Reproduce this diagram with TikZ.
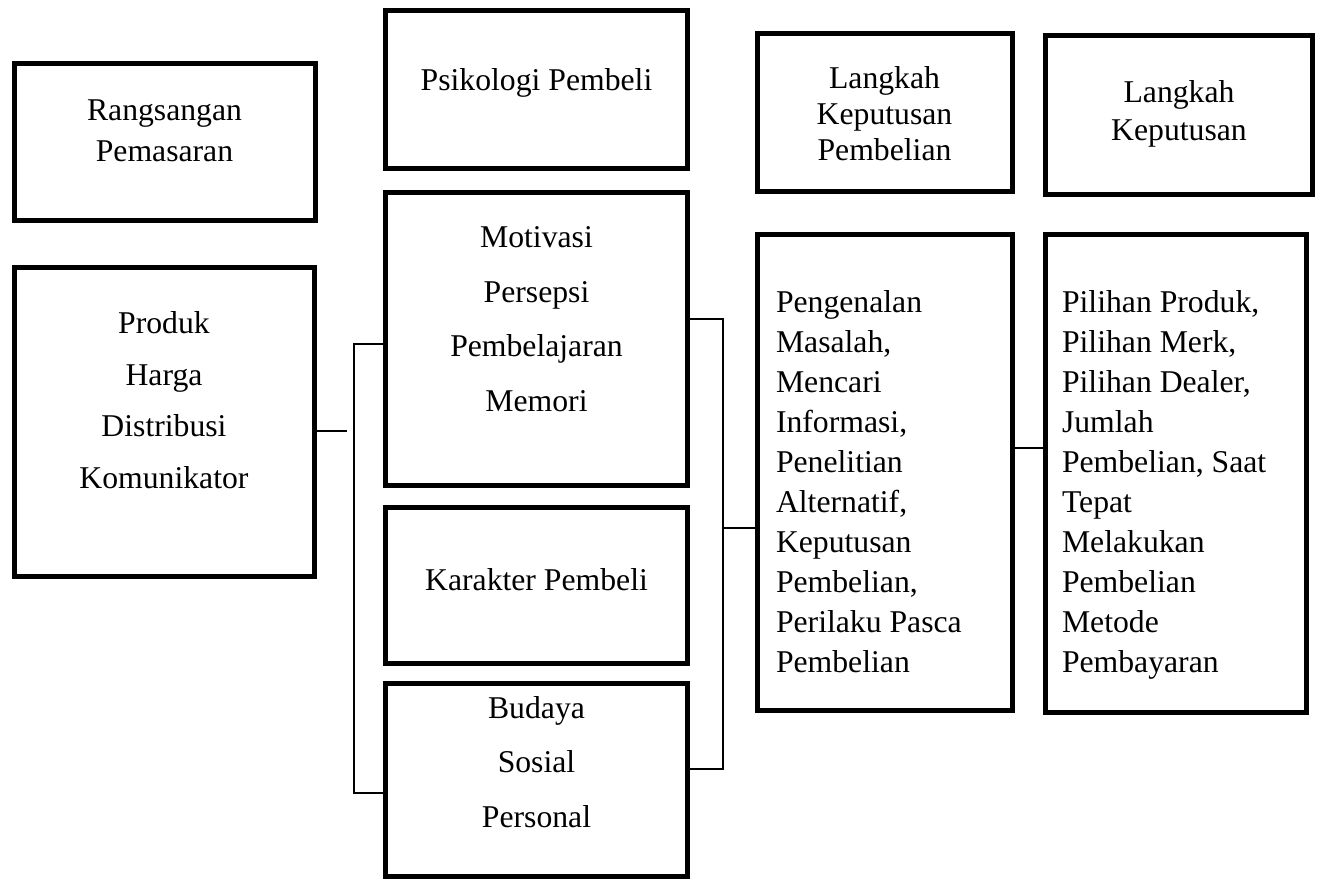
\documentclass[tikz,border=0pt]{standalone}
\usepackage{fontspec}
\setmainfont{Liberation Serif}
\begin{document}
\begin{tikzpicture}[x=0.5pt,y=-0.5pt,
  box/.style={draw=black,line width=2.5pt,rectangle,inner sep=0pt,outer sep=0pt},
  conn/.style={draw=black,line width=0.9pt},
  txt/.style={inner sep=0pt,outer sep=0pt,anchor=north,align=center},
  ltxt/.style={inner sep=0pt,outer sep=0pt,anchor=north west,align=left},
  fs/.style={font=\fontsize{15.85}{#1}\selectfont}]
\useasboundingbox (0,0) rectangle (1320,878);
% boxes
\node[box,minimum width=150.5pt,minimum height=78.25pt] (rang) at (164.5,141.75) {};
\node[box,minimum width=150pt,minimum height=154.5pt] (prod) at (164,421.5) {};
\node[box,minimum width=151pt,minimum height=78.75pt] (psi) at (536.5,89.25) {};
\node[box,minimum width=151pt,minimum height=146.5pt] (mot) at (536.5,338.5) {};
\node[box,minimum width=151pt,minimum height=78pt] (kar) at (536.5,585) {};
\node[box,minimum width=151pt,minimum height=96.5pt] (bud) at (536.5,779.5) {};
\node[box,minimum width=127.5pt,minimum height=78.75pt] (lkp) at (884.5,112.25) {};
\node[box,minimum width=133.5pt,minimum height=79.5pt] (lk) at (1179,114.5) {};
\node[box,minimum width=127.5pt,minimum height=237.75pt] (peng) at (884.5,472.25) {};
\node[box,minimum width=130.5pt,minimum height=238.75pt] (pil) at (1176,473.25) {};
% texts
\node[txt,fs=20.5pt] (trang) at (164.5,99.4) {Rangsangan\\Pemasaran};
\node[txt,fs=25.85pt] (tprod) at (164,311.4) {Produk\\Harga\\Distribusi\\Komunikator};
\node[txt,fs=20pt] (tpsi) at (536.5,68.4) {Psikologi Pembeli};
\node[txt,fs=27.35pt] (tmot) at (536.5,226.4) {Motivasi\\Persepsi\\Pembelajaran\\Memori};
\node[txt,fs=20pt] (tkar) at (536.5,568.4) {Karakter Pembeli};
\node[txt,fs=27.25pt] (tbud) at (536.5,696.4) {Budaya\\Sosial\\Personal};
\node[txt,fs=18pt] (tlkp) at (884.5,66.4) {Langkah\\Keputusan\\Pembelian};
\node[txt,fs=19pt] (tlk) at (1179,80.4) {Langkah\\Keputusan};
\node[ltxt,fs=20pt] (tpeng) at (776,290.4) {Pengenalan\\Masalah,\\Mencari\\Informasi,\\Penelitian\\Alternatif,\\Keputusan\\Pembelian,\\Perilaku Pasca\\Pembelian};
\node[ltxt,fs=20pt] (tpil) at (1062,290.4) {Pilihan Produk,\\Pilihan Merk,\\Pilihan Dealer,\\Jumlah\\Pembelian, Saat\\Tepat\\Melakukan\\Pembelian\\Metode\\Pembayaran};
% connector points
\coordinate (pc) at (347,431);
\coordinate (lb1) at (354,344);
\coordinate (lb2) at (354,793);
\coordinate (rb1) at (723,319);
\coordinate (rb2) at (723,769);
\coordinate (rb3) at (723,528);
\coordinate (mc) at (1030,448);
% connectors
\draw[conn] (prod.east |- pc) -- (pc);
\draw[conn] (mot.west |- lb1) -- (lb1) -- (lb2) -- (bud.west |- lb2);
\draw[conn] (mot.east |- rb1) -- (rb1) -- (rb2) -- (bud.east |- rb2);
\draw[conn] (rb3) -- (peng.west |- rb3);
\draw[conn] (peng.east |- mc) -- (pil.west |- mc);
\end{tikzpicture}
\end{document}
